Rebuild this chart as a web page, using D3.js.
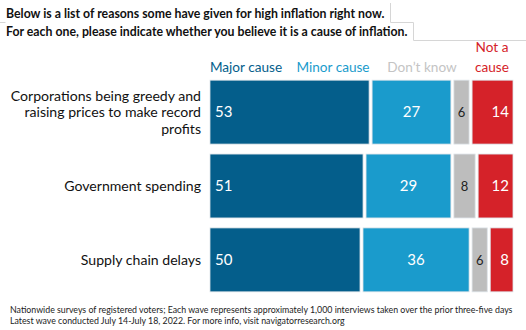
<!DOCTYPE html>
<html>
<head>
<meta charset="utf-8">
<script src="https://cdn.jsdelivr.net/npm/d3@7"></script>
<style>
  body { margin: 0; background: #fff; }
  svg { display: block; font-family: Lato, "Open Sans", sans-serif; }
</style>
</head>
<body>
<div id="chart"></div>
<script>
var width = 526;
var height = 330;

var categories = [
  ['Corporations being greedy and', 'raising prices to make record', 'profits'],
  ['Government spending'],
  ['Supply chain delays']
];
var seriesNames = ['Major cause', 'Minor cause', 'Don\u2019t know', 'Not a cause'];
var majorValues = [53, 51, 50];
var minorValues = [27, 29, 36];
var dontKnowValues = [6, 8, 6];
var notValues = [14, 12, 8];

var colors = ['#045e8b', '#1a9bcc', '#bdbdbd', '#d52229'];
var legendColors = ['#045e8b', '#1a9bcc', '#c4c4c4', '#d52229'];

var titleLines = [
  'Below is a list of reasons some have given for high inflation right now.',
  'For each one, please indicate whether you believe it is a cause of inflation.'
];
var footLines = [
  'Nationwide surveys of registered voters; Each wave represents approximately 1,000 interviews taken over the prior three-five days',
  'Latest wave conducted July 14-July 18, 2022. For more info, visit navigatorresearch.org'
];

var svg = d3.select('#chart').append('svg')
  .attr('width', width)
  .attr('height', height);

// title boxes
var grid = svg.append('g').attr('stroke', '#d6d6d6').attr('fill', 'none');
grid.append('path').attr('d', 'M0,22.5H5.5 M390.5,3V22.5H413.5V40.5H526');

svg.append('g').selectAll('text')
  .data(titleLines)
  .enter().append('text')
    .attr('x', 6)
    .attr('y', function (d, i) { return 18 + i * 18; })
    .attr('font-size', 12.3)
    .attr('font-weight', 'bold')
    .attr('fill', '#111')
    .text(function (d) { return d; });

var rows = categories.map(function (c, i) {
  return {
    label: c,
    values: [majorValues[i], minorValues[i], dontKnowValues[i], notValues[i]]
  };
});

var x = d3.scaleLinear().domain([0, 100]).range([210, 513]);
var y = d3.scaleBand().domain(d3.range(rows.length)).range([75, 297]).paddingInner(0.135).paddingOuter(0.07);

// legend
var legendX = [246, 333, 422, 492];
var legend = svg.append('g').attr('font-size', 13.6).attr('text-anchor', 'middle');
seriesNames.forEach(function (name, i) {
  var lines = i === 3 ? ['Not a', 'cause'] : [name];
  lines.forEach(function (line, j) {
    legend.append('text')
      .attr('x', legendX[i])
      .attr('y', 72 - (lines.length - 1 - j) * 20)
      .attr('fill', legendColors[i])
      .text(line);
  });
});

var rowG = svg.append('g').selectAll('g')
  .data(rows)
  .enter().append('g')
    .attr('transform', function (d, i) { return 'translate(0,' + y(i) + ')'; });

var bh = y.bandwidth();

rowG.each(function (d) {
  var g = d3.select(this);
  var start = 0;
  d.values.forEach(function (v, k) {
    var x0 = x(start), x1 = x(start + v);
    var pad = k === 0 ? 0 : 1.5;
    var padR = k === 3 ? 0 : 1.5;
    g.append('rect')
      .attr('x', x0 + pad)
      .attr('y', 0)
      .attr('width', x1 - x0 - pad - padR)
      .attr('height', bh)
      .attr('fill', colors[k])
      .attr('stroke', '#dde3e8')
      .attr('stroke-width', 0.8);

    var tx, anchor;
    if (k === 0) { tx = x0 + 5; anchor = 'start'; }
    else if (k === 3) { tx = x1 - 4; anchor = 'end'; }
    else { tx = (x0 + x1) / 2; anchor = 'middle'; }
    g.append('text')
      .attr('x', tx)
      .attr('y', bh / 2 + 5)
      .attr('text-anchor', anchor)
      .attr('font-size', k === 2 ? 13 : 15)
      .attr('fill', k === 2 ? '#222' : '#fff')
      .text(v);
    start += v;
  });

  g.append('text')
    .attr('text-anchor', 'end')
    .attr('font-size', 14.1)
    .attr('fill', '#111')
    .selectAll('tspan')
    .data(d.label)
    .enter().append('tspan')
      .attr('x', 201)
      .attr('y', function (t, i) { return bh / 2 + 5 + (i - (d.label.length - 1) / 2) * 16.5; })
      .text(function (t) { return t; });
});

svg.append('g').selectAll('text')
  .data(footLines)
  .enter().append('text')
    .attr('x', 10)
    .attr('y', function (d, i) { return 313 + i * 11; })
    .attr('font-size', 8.8)
    .attr('fill', '#222')
    .text(function (d) { return d; });
</script>
</body>
</html>
